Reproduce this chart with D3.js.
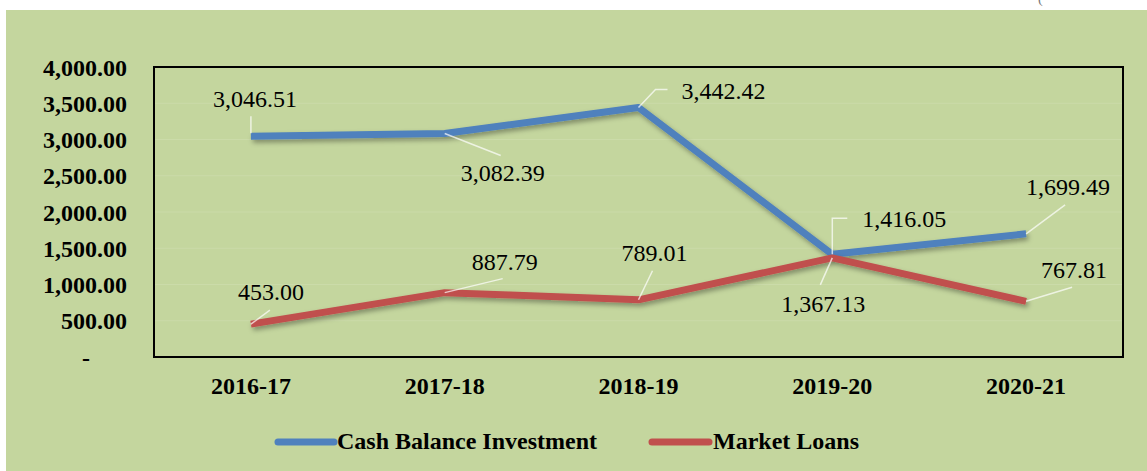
<!DOCTYPE html>
<html>
<head>
<meta charset="utf-8">
<script src="https://cdn.jsdelivr.net/npm/d3@7"></script>
<style>
  html, body { margin: 0; padding: 0; background: #ffffff; }
  svg { display: block; }
</style>
</head>
<body>
<svg id="chart" width="1147" height="471"></svg>
<script>
// ---- data ----
const categories = ["2016-17", "2017-18", "2018-19", "2019-20", "2020-21"];
const cashBalanceInvestment = [3046.51, 3082.39, 3442.42, 1416.05, 1699.49];
const marketLoans = [453.00, 887.79, 789.01, 1367.13, 767.81];
const yTicks = [0, 500, 1000, 1500, 2000, 2500, 3000, 3500, 4000];
const seriesNames = ["Cash Balance Investment", "Market Loans"];

// ---- layout (label offsets relative to each point) ----
const labelLayout = {
  cash: [
    { dx: 4, dy: -29, leader: [[0, -3], [0, -20]] },
    { dx: 58, dy: 47, leader: [[0, 0], [56, 22]] },
    { dx: 85, dy: -8, leader: [[0, 0], [17, -18], [29, -18]] },
    { dx: 72, dy: -27, leader: [[0, 0], [0, -36], [15, -36]] },
    { dx: 42, dy: -39, leader: [[0, 0], [39, -29]] }
  ],
  loans: [
    { dx: 20, dy: -24, leader: [[0, 0], [19, -14]] },
    { dx: 60, dy: -23, leader: [[0, 0], [58, -14]] },
    { dx: 16, dy: -39, leader: [[0, 0], [14, -29]] },
    { dx: -9, dy: 54, leader: [[0, 0], [-12, 27]] },
    { dx: 48, dy: -23, leader: [[0, 0], [46, -14]] }
  ]
};

const W = 1147, H = 471;
const plot = { left: 154, top: 67, right: 1123, bottom: 357 };
const colors = { cash: "#4F81BD", loans: "#C0504D", bg: "#C4D69E" };
const serif = "'Liberation Serif', 'Times New Roman', Times, serif";

const svg = d3.select("#chart");

// drop shadow filter
const defs = svg.append("defs");
const f = defs.append("filter").attr("id", "shadow")
  .attr("x", "-10%").attr("y", "-30%").attr("width", "120%").attr("height", "160%");
f.append("feDropShadow").attr("dx", 2).attr("dy", 3).attr("stdDeviation", 2.5)
  .attr("flood-color", "#000").attr("flood-opacity", 0.35);

// background
svg.append("rect").attr("x", 0).attr("y", 0).attr("width", W).attr("height", H).attr("fill", "#ffffff");
svg.append("rect").attr("x", 6).attr("y", 10).attr("width", W - 6).attr("height", H - 10).attr("fill", colors.bg);
svg.append("text").attr("x", 1038).attr("y", 3).attr("font-family", serif)
  .attr("font-size", 14).attr("fill", "#777").text("(");

// scales
const x = d3.scaleBand().domain(categories).range([plot.left, plot.right]).paddingInner(0).paddingOuter(0);
const cx = d => x(d) + x.bandwidth() / 2;
const y = d3.scaleLinear().domain([0, 4000]).range([plot.bottom, plot.top]);

// faint gridlines
svg.append("g").selectAll("line").data(yTicks.slice(1, -1)).join("line")
  .attr("x1", plot.left).attr("x2", plot.right)
  .attr("y1", d => y(d)).attr("y2", d => y(d))
  .attr("stroke", "#ffffff").attr("stroke-opacity", 0.12).attr("stroke-width", 1);

// y axis labels
const fmt = d3.format(",.2f");
const yAxis = d3.axisLeft(y).tickValues(yTicks).tickSize(0).tickPadding(0)
  .tickFormat(d => d === 0 ? "-" : fmt(d));
const yg = svg.append("g").attr("transform", `translate(127,0)`).call(yAxis);
yg.select(".domain").remove();
yg.selectAll("text")
  .attr("font-family", serif).attr("font-size", 24).attr("font-weight", "bold")
  .attr("fill", "#000").attr("dy", "0.34em")
  .attr("dx", d => d === 0 ? -37 : 0);

// x axis labels
const xAxis = d3.axisBottom(x).tickSize(0).tickPadding(0);
const xg = svg.append("g").attr("transform", `translate(0,${plot.bottom})`).call(xAxis);
xg.select(".domain").remove();
xg.selectAll("text")
  .attr("font-family", serif).attr("font-size", 24).attr("font-weight", "bold")
  .attr("fill", "#000").attr("y", 37).attr("dy", 0);

// plot frame
svg.append("rect")
  .attr("x", plot.left).attr("y", plot.top)
  .attr("width", plot.right - plot.left).attr("height", plot.bottom - plot.top)
  .attr("fill", "none").attr("stroke", "#000").attr("stroke-width", 2);

// lines
const line = d3.line().x((d, i) => cx(categories[i])).y(d => y(d));
const seriesData = [
  { key: "cash", values: cashBalanceInvestment },
  { key: "loans", values: marketLoans }
];
seriesData.forEach(s => {
  svg.append("path").datum(s.values)
    .attr("d", line)
    .attr("fill", "none")
    .attr("stroke", colors[s.key])
    .attr("stroke-width", 7)
    .attr("stroke-linejoin", "round")
    .attr("stroke-linecap", "butt")
    .attr("filter", "url(#shadow)");
});

// leader lines + labels
seriesData.forEach(s => {
  s.values.forEach((v, i) => {
    const px = cx(categories[i]), py = y(v);
    const L = labelLayout[s.key][i];
    svg.append("path")
      .attr("d", d3.line()(L.leader.map(p => [px + p[0], py + p[1]])))
      .attr("fill", "none").attr("stroke", "#ffffff").attr("stroke-opacity", 0.7)
      .attr("stroke-width", 1.5);
    svg.append("text")
      .attr("x", px + L.dx).attr("y", py + L.dy)
      .attr("text-anchor", "middle")
      .attr("font-family", serif).attr("font-size", 24)
      .attr("fill", "#000")
      .text(fmt(v));
  });
});

// legend
const legendItems = [
  { key: "cash", name: seriesNames[0], x1: 278, x2: 334, tx: 337 },
  { key: "loans", name: seriesNames[1], x1: 652, x2: 709, tx: 713 }
];
legendItems.forEach(it => {
  svg.append("line").attr("x1", it.x1).attr("x2", it.x2).attr("y1", 442).attr("y2", 442)
    .attr("stroke", colors[it.key]).attr("stroke-width", 7).attr("stroke-linecap", "round");
  svg.append("text").attr("x", it.tx).attr("y", 449)
    .attr("font-family", serif).attr("font-size", 24).attr("font-weight", "bold")
    .attr("fill", "#000")
    .text(it.name);
});
</script>
</body>
</html>
